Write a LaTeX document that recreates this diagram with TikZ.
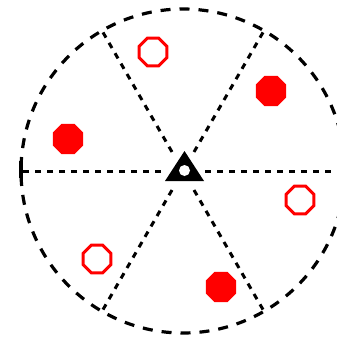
\documentclass[tikz,border=0pt]{standalone}
\usetikzlibrary{shapes.geometric,calc}
\begin{document}
\begin{tikzpicture}[x=1pt,y=-1pt,
  rim/.style={line width=3.2pt, dash pattern=on 10pt off 9pt},
  spoke/.style={line width=3pt, dash pattern=on 6pt off 6pt},
  octo/.style={regular polygon, regular polygon sides=8, minimum size=33pt, inner sep=0pt},
  full/.style={octo, fill=red, draw=none},
  hollow/.style={octo, draw=red, line width=3pt, minimum size=30pt, fill=white}]
\useasboundingbox (0,0) rectangle (337,337);
\coordinate (o) at (183,171);
\draw[rim] (o) circle (162);
\foreach \a/\n in {0/e,60/ne,120/nw,180/w,240/sw,300/se}{
  \coordinate (s\n) at ($(o)+(\a:22)$);
  \coordinate (r\n) at ($(o)+(\a:162)$);
}
\foreach \n in {e,ne,nw,w,sw,se}{
  \draw[spoke] (s\n) -- (r\n);
}
\draw[line width=3.5pt] (21,161) -- (21,178);
\node[hollow] (m1) at (153,52) {};
\node[full] (m2) at (271,91) {};
\node[full] (m3) at (68,139) {};
\node[hollow] (m4) at (300,200) {};
\node[hollow] (m5) at (97,259) {};
\node[full] (m6) at (221,287) {};
\fill[black] (165,181) -- (204,181) -- (184.5,151) -- cycle;
\fill[white] (184.5,170.5) circle (5.5);
\end{tikzpicture}
\end{document}
